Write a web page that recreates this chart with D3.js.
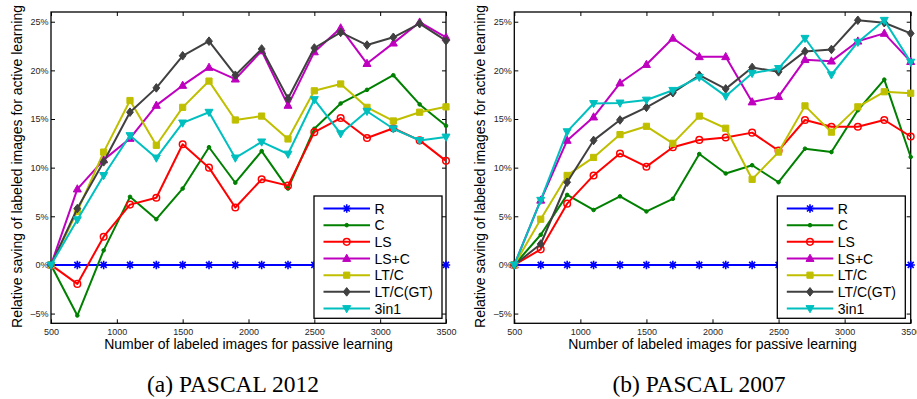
<!DOCTYPE html>
<html><head><meta charset="utf-8">
<script src="https://cdn.jsdelivr.net/npm/d3@7"></script>
<style>body{margin:0;background:#fff}svg{display:block}</style>
</head><body><svg id="c" width="917" height="399"></svg>
<script>
// ---------- data ----------
const xValues = [500,700,900,1100,1300,1500,1700,1900,2100,2300,2500,2700,2900,3100,3300,3500];
const seriesNames = ["R","C","LS","LS+C","LT/C","LT/C(GT)","3in1"];
const xTickValues = [500,1000,1500,2000,2500,3000,3500];
const xTickLabels = ["500","1000","1500","2000","2500","3000","3500"];
const yTickValues = [-5,0,5,10,15,20,25];
const yTickLabels = ["\u20135%","0%","5%","10%","15%","20%","25%"];
const xAxisTitle = "Number of labeled images for passive learning";
const yAxisTitle = "Relative saving of labeled images for active learning";
const captions = ["(a) PASCAL 2012","(b) PASCAL 2007"];

// PASCAL 2012
const p2012_R    = [0,0,0,0,0,0,0,0,0,0,0,0,0,0,0,0];
const p2012_C    = [0,-5.2,1.5,7.0,4.7,7.85,12.1,8.45,11.7,7.85,14.0,16.6,18.0,19.5,16.5,14.3];
const p2012_LS   = [0,-1.95,2.9,6.2,6.9,12.4,10.0,5.9,8.8,8.15,13.65,15.1,13.05,14.05,12.8,10.7];
const p2012_LSC  = [0,7.8,10.8,13.0,16.4,18.45,20.3,19.1,22.0,16.4,21.9,24.35,20.7,22.8,24.95,23.4];
const p2012_LTC  = [0,5.5,11.6,16.9,12.3,16.2,18.9,14.9,15.3,12.95,17.9,18.6,16.2,14.8,15.7,16.25];
const p2012_LTCGT= [0,5.8,10.6,15.7,18.2,21.5,23.0,19.5,22.2,17.1,22.3,23.9,22.6,23.4,24.8,23.05];
const p2012_3in1 = [0,4.65,9.2,13.3,11.0,14.6,15.7,11.0,12.65,11.4,17.0,13.5,15.8,14.0,12.8,13.15];

// PASCAL 2007
const p2007_R    = [0,0,0,0,0,0,0,0,0,0,0,0,0,0,0,0];
const p2007_C    = [0,3.1,7.2,5.65,7.05,5.5,6.8,11.4,9.4,10.25,8.5,11.95,11.6,15.9,19.05,11.1];
const p2007_LS   = [0,1.6,6.3,9.2,11.45,10.1,12.1,12.85,13.1,13.6,11.75,14.9,14.2,14.2,14.9,13.2];
const p2007_LSC  = [0,6.65,12.8,15.2,18.7,20.6,23.3,21.4,21.4,16.75,17.3,21.1,20.95,23.0,23.8,20.9];
const p2007_LTC  = [0,4.7,9.2,11.05,13.4,14.25,12.5,15.3,14.05,8.8,11.6,16.35,13.65,16.25,17.8,17.65];
const p2007_LTCGT= [0,2.15,8.5,12.8,14.9,16.2,17.7,19.5,18.1,20.3,19.85,21.95,22.15,25.15,24.9,23.8];
const p2007_3in1 = [0,6.65,13.7,16.6,16.65,16.95,17.95,19.3,17.35,19.7,20.2,23.3,19.55,22.9,25.15,20.85];

const panels = [
  {series:[p2012_R,p2012_C,p2012_LS,p2012_LSC,p2012_LTC,p2012_LTCGT,p2012_3in1]},
  {series:[p2007_R,p2007_C,p2007_LS,p2007_LSC,p2007_LTC,p2007_LTCGT,p2007_3in1]}
];

// ---------- styles ----------
const colors = ["#0000ff","#008000","#ff0000","#bf00bf","#bfbf00","#404040","#00bfbf"];
const markers = ["star","dot","circle","triUp","square","diamond","triDown"];
const layout = [
  {left:51, right:446, capX:233},
  {left:514.3, right:910.7, capX:699}
];
const plotTop = 12, plotBottom = 323.3;
const sansFont = "'Liberation Sans', Arial, Helvetica, sans-serif";
const serifFont = "'Liberation Serif', 'Times New Roman', serif";

function markerPath(type){
  const p = d3.path();
  switch(type){
    case "star":
      p.moveTo(-4.2,0); p.lineTo(4.2,0);
      p.moveTo(0,-4.2); p.lineTo(0,4.2);
      p.moveTo(-3,-3); p.lineTo(3,3);
      p.moveTo(-3,3); p.lineTo(3,-3);
      break;
    case "dot": p.arc(0,0,1.8,0,2*Math.PI); break;
    case "circle": p.moveTo(3.3,0); p.arc(0,0,3.3,0,2*Math.PI); break;
    case "triUp": p.moveTo(0,-4.3); p.lineTo(4,2.9); p.lineTo(-4,2.9); p.closePath(); break;
    case "triDown": p.moveTo(0,4.3); p.lineTo(4,-2.9); p.lineTo(-4,-2.9); p.closePath(); break;
    case "square": p.rect(-3.1,-3.1,6.2,6.2); break;
    case "diamond": p.moveTo(0,-4.3); p.lineTo(3.4,0); p.lineTo(0,4.3); p.lineTo(-3.4,0); p.closePath(); break;
  }
  return p.toString();
}
function styleMarker(sel, i){
  const t = markers[i], c = colors[i];
  if (t==="star") sel.attr("fill","none").attr("stroke",c).attr("stroke-width",1.6);
  else if (t==="circle") sel.attr("fill","none").attr("stroke",c).attr("stroke-width",1.5);
  else if (t==="dot") sel.attr("fill",c).attr("stroke",c).attr("stroke-width",1);
  else sel.attr("fill",c).attr("stroke",c).attr("stroke-width",1);
}

const svg = d3.select("#c");
svg.append("rect").attr("width",917).attr("height",399).attr("fill","#fff");

panels.forEach((panel, pi) => {
  const L = layout[pi];
  const x = d3.scaleLinear().domain([500,3500]).range([L.left, L.right]);
  const y = d3.scaleLinear().domain([-6,26]).range([plotBottom, plotTop]);
  const g = svg.append("g");

  // axes (MATLAB style: inward ticks on all four sides)
  const tickFmtX = (d,i) => xTickLabels[i];
  const tickFmtY = (d,i) => yTickLabels[i];
  const axB = g.append("g").attr("transform",`translate(0,${plotBottom})`)
    .call(d3.axisBottom(x).tickValues(xTickValues).tickFormat(tickFmtX).tickSizeInner(-4).tickSizeOuter(0).tickPadding(9));
  const axT = g.append("g").attr("transform",`translate(0,${plotTop})`)
    .call(d3.axisTop(x).tickValues(xTickValues).tickFormat("").tickSizeInner(-4).tickSizeOuter(0));
  const axL = g.append("g").attr("transform",`translate(${L.left},0)`)
    .call(d3.axisLeft(y).tickValues(yTickValues).tickFormat(tickFmtY).tickSizeInner(-4).tickSizeOuter(0).tickPadding(2.5));
  const axR = g.append("g").attr("transform",`translate(${L.right},0)`)
    .call(d3.axisRight(y).tickValues(yTickValues).tickFormat("").tickSizeInner(-4).tickSizeOuter(0));
  [axB,axT,axL,axR].forEach(a => {
    a.select(".domain").remove();
    a.selectAll("line").attr("stroke","#000").attr("stroke-width",1);
    a.selectAll("text").attr("font-family",sansFont).attr("font-size",9).attr("fill","#262626");
  });
  axB.selectAll("text").attr("dy","0.3em");
  g.append("rect").attr("x",L.left).attr("y",plotTop)
    .attr("width",L.right-L.left).attr("height",plotBottom-plotTop)
    .attr("fill","none").attr("stroke","#000").attr("stroke-width",1.3);

  // series
  const line = d3.line().x((d,i)=>x(xValues[i])).y(d=>y(d));
  panel.series.forEach((vals, si) => {
    g.append("path").attr("d", line(vals)).attr("fill","none")
      .attr("stroke",colors[si]).attr("stroke-width",2).attr("stroke-linejoin","round");
    const ms = g.append("g").selectAll("path").data(vals).join("path")
      .attr("d", markerPath(markers[si]))
      .attr("transform",(d,i)=>`translate(${x(xValues[i])},${y(d)})`);
    styleMarker(ms, si);
  });

  // legend
  const lgX = L.left + 263, lgY = 196, lgW = 128, lgH = 122.3;
  const lg = g.append("g");
  lg.append("rect").attr("x",lgX).attr("y",lgY).attr("width",lgW).attr("height",lgH)
    .attr("fill","#fff").attr("stroke","#000").attr("stroke-width",1.3);
  seriesNames.forEach((name, si) => {
    const ry = lgY + 12.5 + si*16.67;
    lg.append("line").attr("x1",lgX+9.5).attr("x2",lgX+56).attr("y1",ry).attr("y2",ry)
      .attr("stroke",colors[si]).attr("stroke-width",2);
    const m = lg.append("path").attr("d",markerPath(markers[si]))
      .attr("transform",`translate(${lgX+32.7},${ry})`);
    styleMarker(m, si);
    lg.append("text").attr("x",lgX+60.5).attr("y",ry).attr("dy","0.36em")
      .attr("font-family",sansFont).attr("font-size",14).attr("fill","#000").text(name);
  });

  // titles
  const cx = (L.left + L.right)/2;
  svg.append("text").attr("x",cx).attr("y",349).attr("text-anchor","middle")
    .attr("font-family",sansFont).attr("font-size",14).attr("fill","#000").text(xAxisTitle);
  svg.append("text").attr("transform",`translate(${L.left-29},166.5) rotate(-90)`)
    .attr("text-anchor","middle").attr("font-family",sansFont).attr("font-size",14)
    .attr("fill","#000").text(yAxisTitle);
  svg.append("text").attr("x",L.capX).attr("y",391.5).attr("text-anchor","middle")
    .attr("font-family",serifFont).attr("font-size",23.5).attr("fill","#000").text(captions[pi]);
});
</script>
</body></html>
